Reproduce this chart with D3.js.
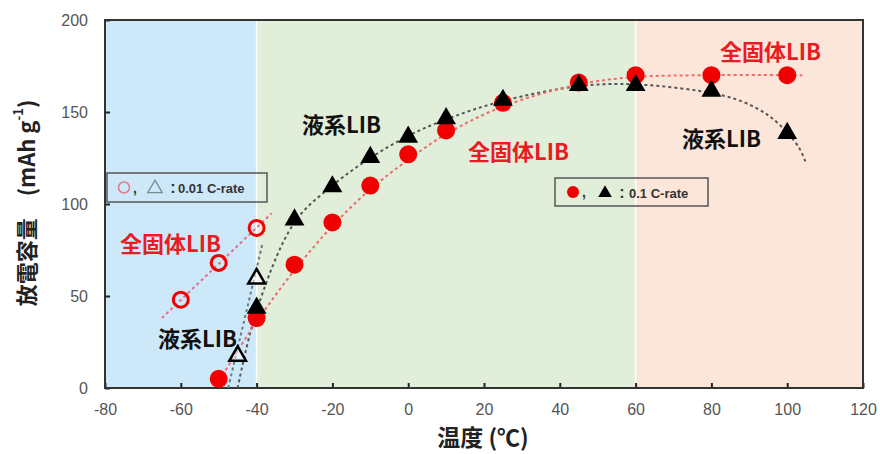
<!DOCTYPE html>
<html><head><meta charset="utf-8">
<script src="https://cdn.jsdelivr.net/npm/d3@7"></script>
<style>body{margin:0;background:#fff}</style>
</head><body><svg id="c" width="880" height="454"></svg>
<script>
// ---- data ----
const xTicks = [-80,-60,-40,-20,0,20,40,60,80,100,120];
const yTicks = [0,50,100,150,200];
const regions = [
  {from:-80, to:-40, color:"#cde9f9"},
  {from:-40, to:60, color:"#e1eed9"},
  {from:60, to:120, color:"#fce5d9"}
];
// 0.1 C-rate
const solidTemp = [-50,-40,-30,-20,-10,0,10,25,45,60,80,100];
const solidCap  = [5,38,67,90,110,127,140,155,166,170,170,170];
const liquidTemp = [-40,-30,-20,-10,0,10,25,45,60,80,100];
const liquidCap  = [44,92,110,126,137,147,157,165,165,162,139];
// 0.01 C-rate
const solidLowTemp = [-60,-50,-40];
const solidLowCap  = [48,68,87];
const liquidLowTemp = [-45,-40];
const liquidLowCap  = [18,60];
// dotted guide curves
const solidFitT = [-49,-40,-30,-20,-10,0,10,25,45,60,80,104];
const solidFitC = [7,36,64,88,108,124,138,153,165,169,170,170];
const liquidFitT = [-45,-40,-30,-20,-10,0,10,25,45,60,83,92,97.5,103,105];
const liquidFitC = [0,42,90,110,125,137,146,156,164,165,159,152,144,131,122];
const solidLowFitT = [-65,-36];
const solidLowFitC = [38,95];
const liquidLowFitT = [-47.5,-38.5];
const liquidLowFitC = [0,78];

const svg = d3.select("#c");
const x = d3.scaleLinear().domain([-80,120]).range([105,863]);
const y = d3.scaleLinear().domain([0,200]).range([388,20]);
const CJK = "'Noto Sans CJK JP', 'Noto Sans', sans-serif";
const LAT = "'Liberation Sans', Arial, sans-serif";
const RED = "#f00000";
const TXTRED = "#ea1b22";

// backgrounds
svg.selectAll("rect.reg").data(regions).join("rect")
  .attr("x", d=>x(d.from)).attr("width", d=>x(d.to)-x(d.from))
  .attr("y", y(200)).attr("height", y(0)-y(200)).attr("fill", d=>d.color);
svg.selectAll("line.sep").data([-40,60]).join("line")
  .attr("x1", d=>x(d)).attr("x2", d=>x(d)).attr("y1", y(200)).attr("y2", y(0))
  .attr("stroke","#fff").attr("stroke-width",1.5);

// axes
const fmt = d => String(d);
const xa = svg.append("g").attr("transform",`translate(0,${y(0)})`)
  .call(d3.axisBottom(x).tickValues(xTicks).tickFormat(fmt).tickSize(-5).tickPadding(16));
const ya = svg.append("g").attr("transform",`translate(${x(-80)},0)`)
  .call(d3.axisLeft(y).tickValues(yTicks).tickFormat(fmt).tickSize(-5).tickPadding(17));
[xa,ya].forEach(g=>{
  g.select(".domain").remove();
  g.selectAll(".tick line").attr("stroke","#222").attr("stroke-width",2);
  g.selectAll(".tick text").attr("font-family",LAT).attr("font-size",16).attr("fill","#555");
});
svg.append("rect").attr("x",x(-80)).attr("y",y(200)).attr("width",x(120)-x(-80))
  .attr("height",y(0)-y(200)).attr("fill","none").attr("stroke","#333").attr("stroke-width",2);

// guide lines
const line = d3.line().x(d=>x(d[0])).y(d=>y(d[1])).curve(d3.curveCatmullRom.alpha(0.5));
function guide(T,C,color){
  svg.append("path").attr("d", line(d3.zip(T,C))).attr("fill","none")
    .attr("stroke",color).attr("stroke-width",2).attr("stroke-dasharray","3,3");
}
guide(solidLowFitT, solidLowFitC, "#e0708a");
guide(liquidLowFitT, liquidLowFitC, "#6a7a80");
guide(liquidFitT, liquidFitC, "#555");
guide(solidFitT, solidFitC, "#f06a6a");

// markers
const tri = d3.symbol().type(d3.symbolTriangle).size(170);
svg.selectAll("circle.solid").data(d3.zip(solidTemp,solidCap)).join("circle")
  .attr("cx",d=>x(d[0])).attr("cy",d=>y(d[1])).attr("r",9).attr("fill",RED);
svg.selectAll("path.liq").data(d3.zip(liquidTemp,liquidCap)).join("path")
  .attr("d",tri).attr("transform",d=>`translate(${x(d[0])},${y(d[1])+1})`).attr("fill","#000");
svg.selectAll("circle.solidLow").data(d3.zip(solidLowTemp,solidLowCap)).join("circle")
  .attr("cx",d=>x(d[0])).attr("cy",d=>y(d[1])).attr("r",7.5).attr("fill","none")
  .attr("stroke",RED).attr("stroke-width",3);
svg.selectAll("path.liqLow").data(d3.zip(liquidLowTemp,liquidLowCap)).join("path")
  .attr("d",d3.symbol().type(d3.symbolTriangle).size(120))
  .attr("transform",d=>`translate(${x(d[0])},${y(d[1])+1})`)
  .attr("fill","rgba(255,255,255,0.5)").attr("stroke","#000").attr("stroke-width",2.5);

// labels
const labels = [
  {t:"全固体LIB", px:720, py:50, c:TXTRED},
  {t:"液系LIB", px:682, py:137, c:"#111"},
  {t:"液系LIB", px:302, py:123, c:"#111"},
  {t:"全固体LIB", px:468, py:150, c:TXTRED},
  {t:"全固体LIB", px:120, py:242, c:TXTRED},
  {t:"液系LIB", px:158, py:337, c:"#111"}
];
svg.selectAll("text.lab").data(labels).join("text")
  .attr("x",d=>d.px).attr("y",d=>d.py).attr("dominant-baseline","central")
  .attr("font-family",CJK).attr("font-weight","bold").attr("font-size",22)
  .attr("fill",d=>d.c).text(d=>d.t);

// legend boxes
function legend(bx,by,w,h,lowRate,text){
  const g = svg.append("g");
  g.append("rect").attr("x",bx).attr("y",by).attr("width",w).attr("height",h)
    .attr("fill","none").attr("stroke","#555").attr("stroke-width",1.5);
  const cy = by+h/2;
  if(lowRate){
    g.append("circle").attr("cx",bx+17).attr("cy",cy).attr("r",5.5).attr("fill","none")
      .attr("stroke","#e07a8a").attr("stroke-width",1.5);
    g.append("path").attr("d",d3.symbol().type(d3.symbolTriangle).size(90))
      .attr("transform",`translate(${bx+48},${cy+1})`).attr("fill","none")
      .attr("stroke","#7a8a90").attr("stroke-width",1.3);
  } else {
    g.append("circle").attr("cx",bx+18).attr("cy",cy).attr("r",6).attr("fill",RED);
    g.append("path").attr("d",d3.symbol().type(d3.symbolTriangle).size(80))
      .attr("transform",`translate(${bx+50},${cy+1})`).attr("fill","#000");
  }
  const o = lowRate ? 0 : 1;
  g.append("text").attr("x",bx+26+o).attr("y",cy+5).attr("font-size",14).attr("font-weight","bold")
    .attr("font-family",LAT).attr("fill","#333").text(",");
  g.append("text").attr("x",bx+66+o).attr("y",cy).attr("dominant-baseline","central")
    .attr("text-anchor","middle").attr("font-size",16).attr("font-weight","bold")
    .attr("font-family",LAT).attr("fill","#333").text(":");
  g.append("text").attr("x",bx+71+o*3).attr("y",cy+1).attr("dominant-baseline","central")
    .attr("font-size",13).attr("font-weight","bold").attr("font-family",LAT)
    .attr("fill","#333").text(text);
}
legend(107,173,160,29,true,"0.01 C-rate");
legend(555,178,153,28,false,"0.1 C-rate");

// axis titles
svg.append("text").attr("x",483).attr("y",436).attr("text-anchor","middle")
  .attr("dominant-baseline","central").attr("font-family",CJK).attr("font-weight","bold")
  .attr("font-size",23).attr("fill","#222").text("温度 (℃)");
const yt = svg.append("text").attr("transform","translate(25,203) rotate(-90)")
  .attr("text-anchor","middle").attr("dominant-baseline","central")
  .attr("font-family",CJK).attr("font-weight","bold").attr("font-size",22).attr("fill","#222");
yt.append("tspan").text("放電容量　(mAh g");
yt.append("tspan").attr("font-size",13).attr("dy",-8).text("-1");
yt.append("tspan").attr("dy",8).text(")");
</script></body></html>
